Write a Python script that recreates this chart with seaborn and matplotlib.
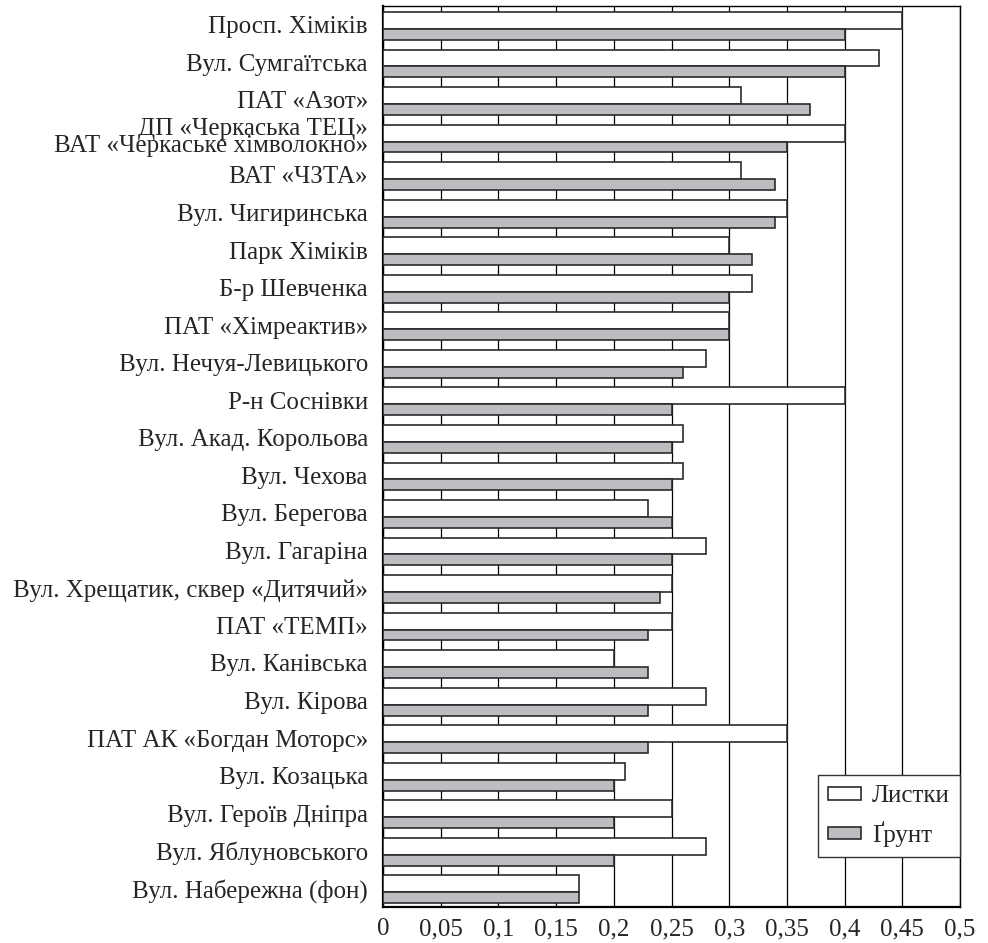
import matplotlib
matplotlib.use('Agg')
import matplotlib.pyplot as plt
from matplotlib.patches import Patch, Rectangle
from matplotlib.legend_handler import HandlerPatch
import seaborn as sns
import pandas as pd
import numpy as np

# Data (top to bottom)
sites = [
    'Просп. Хіміків',
    'Вул. Сумгаїтська',
    'ПАТ «Азот»',
    'ДП «Черкаська ТЕЦ»\nВАТ «Черкаське хімволокно»',
    'ВАТ «ЧЗТА»',
    'Вул. Чигиринська',
    'Парк Хіміків',
    'Б-р Шевченка',
    'ПАТ «Хімреактив»',
    'Вул. Нечуя-Левицького',
    'Р-н Соснівки',
    'Вул. Акад. Корольова',
    'Вул. Чехова',
    'Вул. Берегова',
    'Вул. Гагаріна',
    'Вул. Хрещатик, сквер «Дитячий»',
    'ПАТ «ТЕМП»',
    'Вул. Канівська',
    'Вул. Кірова',
    'ПАТ АК «Богдан Моторс»',
    'Вул. Козацька',
    'Вул. Героїв Дніпра',
    'Вул. Яблуновського',
    'Вул. Набережна (фон)',
]
leaves = [0.45, 0.43, 0.31, 0.40, 0.31, 0.35, 0.30, 0.32, 0.30, 0.28, 0.40, 0.26,
          0.26, 0.23, 0.28, 0.25, 0.25, 0.20, 0.28, 0.35, 0.21, 0.25, 0.28, 0.17]
soil = [0.40, 0.40, 0.37, 0.35, 0.34, 0.34, 0.32, 0.30, 0.30, 0.26, 0.25, 0.25,
        0.25, 0.25, 0.25, 0.24, 0.23, 0.23, 0.23, 0.23, 0.20, 0.20, 0.20, 0.17]
series_names = ['Листки', 'Ґрунт']
x_ticks = [0, 0.05, 0.1, 0.15, 0.2, 0.25, 0.3, 0.35, 0.4, 0.45, 0.5]

sns.set_style('white')
plt.rcParams['font.family'] = ['Liberation Serif', 'DejaVu Serif']
plt.rcParams['font.size'] = 18

idx = np.arange(len(sites))
df_leaves = pd.DataFrame({'pos': idx - 0.115, 'value': leaves})
df_soil = pd.DataFrame({'pos': idx + 0.255, 'value': soil})

fig = plt.figure(figsize=(9.88, 9.43), dpi=100)
ax = fig.add_axes([0.3877, 0.0382, 0.9717 - 0.3877, 0.9936 - 0.0382])

edge = '#2b2b2b'
white_col = '#ffffff'
grey_col = '#bcbdc1'

sns.barplot(data=df_leaves, x='value', y='pos', orient='y', native_scale=True,
            width=0.45, color=white_col, edgecolor=edge, linewidth=1.2,
            saturation=1, ax=ax, zorder=3)
sns.barplot(data=df_soil, x='value', y='pos', orient='y', native_scale=True,
            width=0.29, color=grey_col, edgecolor=edge, linewidth=1.2,
            saturation=1, ax=ax, zorder=3)

ax.set_xlim(0, 0.5)
ax.set_ylim(len(sites) - 0.5, -0.5)

# vertical grid at each x tick
ax.set_xticks(x_ticks)
ax.set_xticklabels(['0' if v == 0 else f'{v:g}'.replace('.', ',') for v in x_ticks])
ax.xaxis.grid(True, color='black', linewidth=0.9, zorder=0)
ax.set_axisbelow(True)

# y ticks at group borders, labels centred on groups
ax.set_yticks(np.arange(len(sites) + 1) - 0.5)
ax.set_yticklabels([])
ax.set_yticks(idx, minor=True)
ax.set_yticklabels(sites, minor=True, linespacing=0.72)
ax.tick_params(axis='y', which='major', direction='out', length=5, width=1.5, color='black')
ax.tick_params(axis='y', which='minor', length=0, pad=11)
ax.tick_params(axis='x', direction='out', length=5, width=1.5, color='black', pad=3)

ax.set_xlabel('')
ax.set_ylabel('')
for side in ['top', 'right', 'bottom', 'left']:
    ax.spines[side].set_visible(True)
    ax.spines[side].set_color('black')
    ax.spines[side].set_linewidth(1.0)
ax.spines['left'].set_linewidth(1.6)
ax.spines['bottom'].set_linewidth(1.6)


def swatch(legend, orig_handle, xdescent, ydescent, width, height, fontsize):
    # small box pushed to the right side of the handle area
    w = fontsize * 1.33
    return Rectangle((-xdescent + width - w, -ydescent), w, height)


handles = [Patch(facecolor=white_col, edgecolor=edge, linewidth=1.2, label=series_names[0]),
           Patch(facecolor=grey_col, edgecolor=edge, linewidth=1.2, label=series_names[1])]
leg = ax.legend(handles=handles, loc='lower right', bbox_to_anchor=(1.0, 0.0555),
                borderaxespad=0, fancybox=False, framealpha=1, edgecolor='#333333',
                handlelength=1.3, handleheight=0.4, handletextpad=0.45,
                labelspacing=0.55, borderpad=0.4, fontsize=18,
                handler_map={Patch: HandlerPatch(patch_func=swatch)})
leg.get_frame().set_linewidth(1.0)
leg.set_zorder(5)

fig.savefig('out.png', dpi=100)
